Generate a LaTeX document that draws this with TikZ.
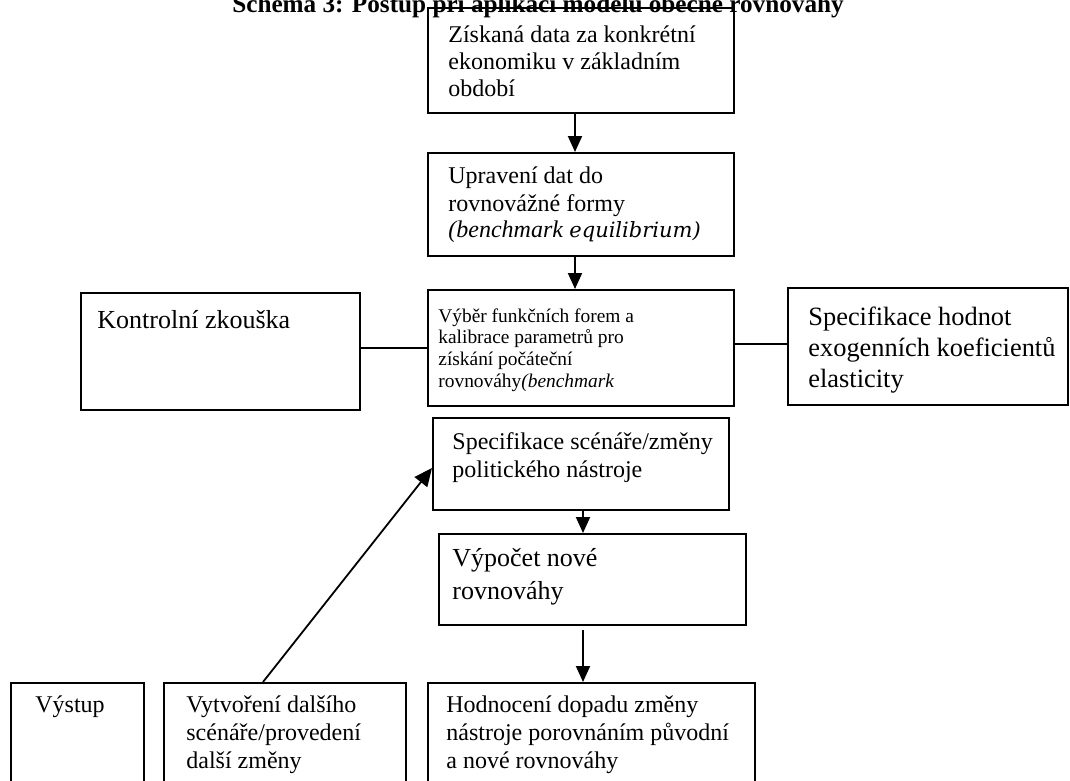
\documentclass[tikz,border=0pt]{standalone}
\usepackage{fontspec}
\setmainfont{Liberation Serif}
\newfontfamily\eqfont{DejaVu Serif}
\usetikzlibrary{arrows.meta}

% left-aligned block whose baseline is that of its first line
\newcommand{\tb}[1]{\begin{tabular}[t]{@{}l@{}}#1\end{tabular}}

\tikzset{
  box/.style={draw, line width=1pt, inner sep=0pt, anchor=north west},
  txt/.style={anchor=base west, inner sep=0pt},
  link/.style={line width=1pt},
  arr/.style={line width=1pt, -{Triangle[width=7pt,length=8pt]}},
  longarr/.style={line width=0.9pt, -{Triangle[width=8pt,length=9pt]}},
}

\begin{document}
\begin{tikzpicture}[x=0.5pt, y=-0.5pt]
\useasboundingbox (0,0) rectangle (1070,781);
\clip (0,0) rectangle (1070,781);

% title (runs off the top edge)
\node[anchor=base, inner sep=0pt, font=\fontsize{12.6}{14}\selectfont\bfseries] (title) at (538,13)
  {Schéma 3: Postup při aplikaci modelu obecné rovnováhy};

% main column
\node[box, minimum width=153pt, minimum height=52.5pt] (data) at (427,7) {};
\node[txt] (datat) at (448,43) {\fontsize{12}{13.5}\selectfont
  \tb{Získaná data za konkrétní\\ ekonomiku v základním\\ období}};

\node[box, minimum width=153pt, minimum height=51.5pt] (uprav) at (427,152) {};
\node[txt] (upravt) at (448,184) {\fontsize{12}{13.5}\selectfont
  \tb{Upravení dat do\\ rovnovážné formy\\ \textit{(benchmark} {\eqfont\itshape\fontsize{10.5}{13.5}\selectfont equilibrium)}}};

\node[box, minimum width=153pt, minimum height=58pt] (vyber) at (427,289) {};
\node[txt] (vybert) at (438,322) {\fontsize{9.7}{10.9}\selectfont
  \tb{Výběr funkčních forem a\\ kalibrace parametrů pro\\ získání počáteční\\ rovnováhy\textit{(benchmark}}};

\node[box, minimum width=139.5pt, minimum height=58.5pt] (kontrola) at (80,292) {};
\node[txt] (kontrolat) at (97,328) {\fontsize{13}{14.5}\selectfont Kontrolní zkouška};

\node[box, minimum width=140pt, minimum height=58.5pt] (exog) at (787,287) {};
\node[txt] (exogt) at (808,325) {\fontsize{13.2}{15.5}\selectfont
  \tb{Specifikace hodnot\\ exogenních koeficientů\\ elasticity}};

\node[box, minimum width=148pt, minimum height=46pt] (scen) at (432,417) {};
\node[txt] (scent) at (452,449) {\fontsize{12}{14}\selectfont
  \tb{Specifikace scénáře/změny\\ politického nástroje}};

\node[box, minimum width=153.5pt, minimum height=45.5pt] (vypocet) at (438,533) {};
\node[txt] (vypocett) at (452,566) {\fontsize{13}{16.5}\selectfont
  \tb{Výpočet nové\\ rovnováhy}};

% bottom row (boxes run past the lower edge)
\node[box, minimum width=66.5pt, minimum height=60pt] (vystup) at (10,682) {};
\node[txt] (vystupt) at (35,712) {\fontsize{12}{14}\selectfont Výstup};

\node[box, minimum width=121pt, minimum height=60pt] (dalsi) at (163,682) {};
\node[txt] (dalsit) at (186,712) {\fontsize{12}{14}\selectfont
  \tb{Vytvoření dalšího\\ scénáře/provedení\\ další změny}};

\node[box, minimum width=163.5pt, minimum height=60pt] (hodn) at (427,682) {};
\node[txt] (hodnt) at (446,712) {\fontsize{12}{14}\selectfont
  \tb{Hodnocení dopadu změny\\ nástroje porovnáním původní\\ a nové rovnováhy}};

% connectors
\draw[arr] ([xshift=-3pt]data.south) -- ([xshift=-3pt]uprav.north);
\draw[arr] ([xshift=-3pt]uprav.south) -- ([xshift=-3pt]vyber.north);
\draw[link] ([yshift=2pt]vyber.east) -- ([yshift=2pt]vyber.east -| exog.west);
\draw[link] (vyber.west) -- (vyber.west -| kontrola.east);
\draw[arr] ([xshift=1pt]scen.south) -- ([xshift=1pt]scen.south |- vypocet.north);
\draw[arr] ([xshift=1pt,yshift=-2pt]scen.south |- vypocet.south) -- ([xshift=1pt]scen.south |- hodn.north);
\draw[longarr] ([xshift=-11pt]dalsi.north) -- ([yshift=-2pt]scen.west);
\end{tikzpicture}
\end{document}
